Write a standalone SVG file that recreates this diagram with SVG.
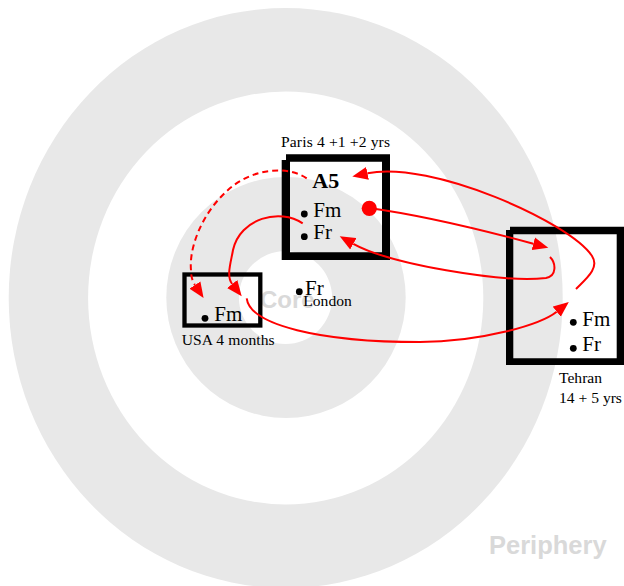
<svg xmlns="http://www.w3.org/2000/svg" width="624" height="586" viewBox="0 0 624 586">
<style>
.lbl{font-family:"Liberation Serif","Times New Roman",serif;fill:#000}
.small{font-size:15.6px}
.big{font-size:21px}
.bg{font-family:"Liberation Sans",Arial,sans-serif;font-weight:bold;fill:#d9d9d9}
.box{fill:#000;fill-rule:evenodd}
.dot{fill:#000}
.conn{fill:none;stroke:#ff0000;stroke-width:2}
</style>
<defs>
<marker id="ah" viewBox="0 -7 16 14" refX="0" refY="0" markerWidth="16" markerHeight="14" markerUnits="userSpaceOnUse" orient="auto">
<path d="M0,-6.5 L15.5,0 L0,6.5 Z" fill="#ff0000"/>
</marker>
</defs>
<rect width="624" height="586" fill="#fff"/>
<g id="rings">
<ellipse cx="285.7" cy="298" rx="277" ry="290" fill="#e8e8e8"/>
<ellipse cx="285.7" cy="298" rx="197.6" ry="206.5" fill="#fff"/>
<ellipse cx="286" cy="297.5" rx="119.7" ry="120.5" fill="#e8e8e8"/>
<ellipse cx="285.5" cy="297.5" rx="46.6" ry="46.5" fill="#fff"/>
<text class="bg" x="260" y="308.3" font-size="24">Core</text>
<text class="bg" x="489" y="554.3" font-size="25.5">Periphery</text>
</g>
<g id="paris">
<path class="box" d="M286,154.3 H390 V260 H281.7 V160 H286 Z M290,161.7 V252.3 H382 V161.7 Z"/>
<text class="lbl small" x="281" y="146.7" textLength="109" lengthAdjust="spacing">Paris 4 +1 +2 yrs</text>
<text class="lbl" x="312.3" y="187.7" font-size="22" font-weight="bold">A5</text>
<circle class="dot" cx="304.3" cy="214" r="3.4"/>
<text class="lbl big" x="313.3" y="216.7">Fm</text>
<circle class="dot" cx="304.3" cy="236.7" r="3.4"/>
<text class="lbl big" x="313.3" y="239.3">Fr</text>
<circle cx="369.3" cy="208.3" r="7.6" fill="#ff0000"/>
</g>
<g id="usa">
<rect x="184.5" y="274.5" width="75.8" height="51" fill="none" stroke="#000" stroke-width="4.3"/>
<circle class="dot" cx="205" cy="318.3" r="3.4"/>
<text class="lbl big" x="214.3" y="321">Fm</text>
<text class="lbl small" x="181.7" y="345" textLength="93" lengthAdjust="spacing">USA 4 months</text>
</g>
<g id="london">
<circle class="dot" cx="299.3" cy="291.7" r="3.4"/>
<text class="lbl big" x="305" y="295">Fr</text>
<text class="lbl small" x="303.3" y="306">London</text>
</g>
<g id="tehran">
<path class="box" d="M510,226.7 H624.5 V365 H506 V230 H510 Z M513.3,234.3 V358.3 H616.7 V234.3 Z"/>
<circle class="dot" cx="573.3" cy="322.3" r="3.4"/>
<text class="lbl big" x="582.3" y="326">Fm</text>
<circle class="dot" cx="573.3" cy="348.3" r="3.4"/>
<text class="lbl big" x="582.3" y="351">Fr</text>
<text class="lbl small" x="559" y="383.3">Tehran</text>
<text class="lbl small" x="559" y="402.7">14 + 5 yrs</text>
</g>
<g id="connectors">
<path class="conn" stroke-dasharray="6,4" d="M306.7,178.3 C285,164 250,170 228,190 C200,215 189,250 191,270 Q191,279 195,285" marker-end="url(#ah)"/>
<path class="conn" d="M576,289 C586,279 600,268 592,256 C570,222 430,160 367.5,173.3" marker-end="url(#ah)"/>
<path class="conn" d="M369,208 C420,215 490,232 533.3,243.7" marker-end="url(#ah)"/>
<path class="conn" d="M550,257 C556,263 557,276 546,278 C500,283 390,264 353.3,243.8" marker-end="url(#ah)"/>
<path class="conn" d="M302.7,223.3 C280,208 240,218 233,250 C231,262 226,276 232.2,284" marker-end="url(#ah)"/>
<path class="conn" d="M246.7,298.3 C250,325 320,342 420,342 C480,342 540,325 556.7,311.7" marker-end="url(#ah)"/>
</g>
</svg>
